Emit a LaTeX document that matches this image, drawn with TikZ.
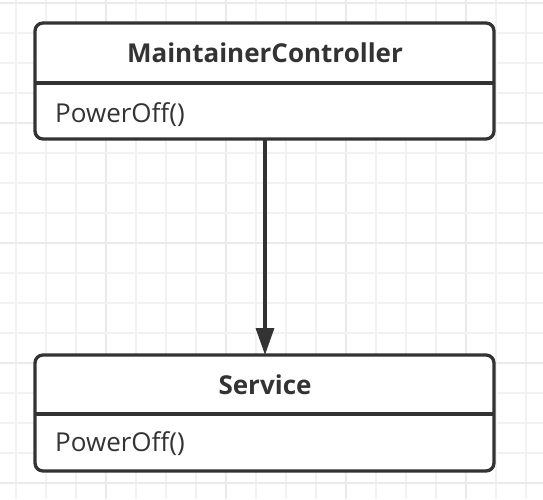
\documentclass[tikz,border=0pt]{standalone}
\usepackage{fontspec}
\setmainfont{Open Sans}
\usetikzlibrary{arrows.meta}
\definecolor{ink}{HTML}{333333}
\definecolor{gridminor}{HTML}{F2F2F2}
\definecolor{gridmajor}{HTML}{EAEAEA}
\tikzset{
  umlbox/.style={draw=ink, line width=3.3pt, rounded corners=8pt, fill=white},
  divider/.style={draw=ink, line width=3.3pt},
  titletext/.style={font=\fontsize{26}{30}\selectfont\bfseries, text=ink, anchor=center, inner sep=0pt},
  optext/.style={font=\fontsize{26}{30}\selectfont, text=ink, anchor=west, inner sep=0pt},
  assoc/.style={draw=ink, line width=3.3pt, -{Triangle[length=27pt,width=18pt]}}
}
\begin{document}
\begin{tikzpicture}[x=1pt,y=-1pt]
\useasboundingbox (0,0) rectangle (543,499);
\fill[white] (0,0) rectangle (543,499);
\foreach \i in {0,...,17} {
  \pgfmathtruncatemacro\m{mod(\i,4)}
  \ifnum\m=3
    \draw[gridmajor, line width=2pt] ({16+30*\i},0) -- ({16+30*\i},499);
  \else
    \draw[gridminor, line width=1.5pt] ({16+30*\i},0) -- ({16+30*\i},499);
  \fi
}
\foreach \j in {0,...,16} {
  \pgfmathtruncatemacro\m{mod(\j,4)}
  \ifnum\m=0
    \draw[gridmajor, line width=2pt] (0,{3+30*\j}) -- (543,{3+30*\j});
  \else
    \draw[gridminor, line width=1.5pt] (0,{3+30*\j}) -- (543,{3+30*\j});
  \fi
}
% box 1
\draw[umlbox] (35,23) rectangle (494,139);
\draw[divider] (35,83) -- (494,83);
\node[titletext] (mc) at (265,53) {MaintainerController};
\node[optext] (mcop) at (55,115) {PowerOff()};
\coordinate (mcbot) at (265,139);
% box 2
\draw[umlbox] (35,355) rectangle (494,471);
\draw[divider] (35,414) -- (494,414);
\node[titletext] (sv) at (265,385) {Service};
\node[optext] (svop) at (55,444) {PowerOff()};
\coordinate (svtop) at (265,355);
\draw[assoc] (mcbot) -- (svtop);
\end{tikzpicture}
\end{document}
